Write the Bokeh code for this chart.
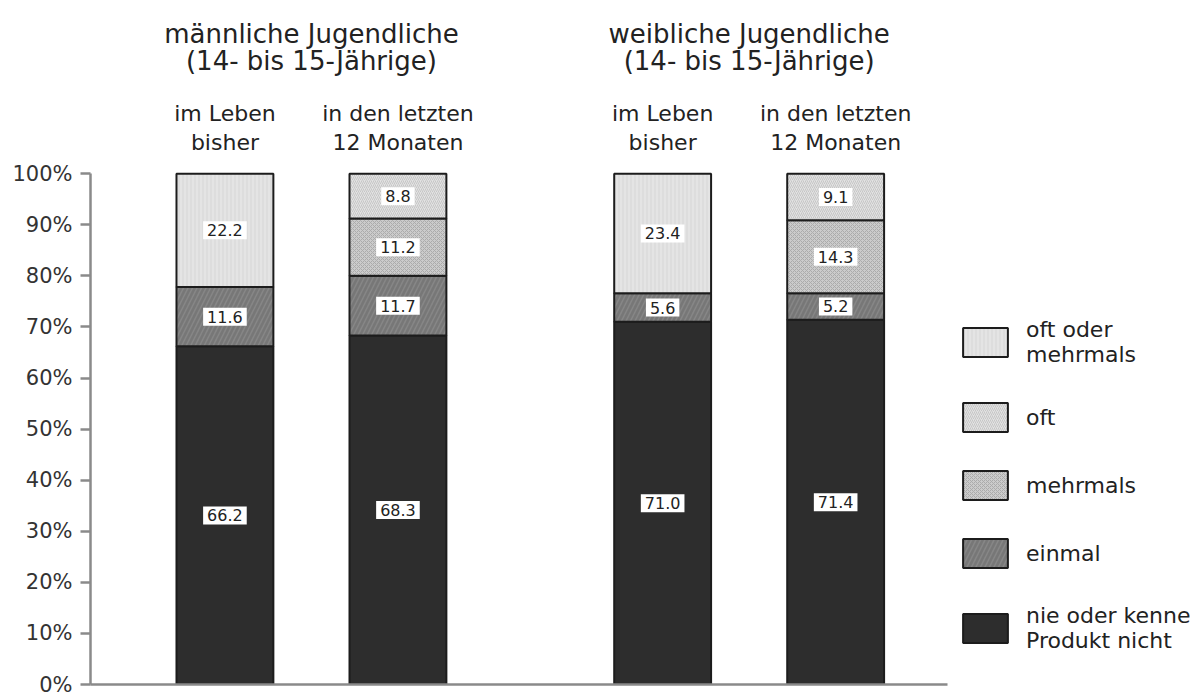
from bokeh.plotting import figure
from bokeh.models import (Range1d, LinearAxis, FixedTicker, PrintfTickFormatter,
                          Legend, LegendItem, ColumnDataSource)
from bokeh.core.properties import value
from bokeh.embed import file_html
from bokeh.resources import INLINE

# ---------------- data ----------------
group_titles = [["männliche Jugendliche", "(14- bis 15-Jährige)"],
                ["weibliche Jugendliche", "(14- bis 15-Jährige)"]]
bar_titles = [["im Leben", "bisher"], ["in den letzten", "12 Monaten"]]
group_index = [0, 0, 1, 1]
sub_index = [0, 1, 0, 1]

series_names = ["nie oder kenne\nProdukt nicht", "einmal", "mehrmals", "oft",
                "oft oder\nmehrmals"]
nie = [66.2, 68.3, 71.0, 71.4]
einmal = [11.6, 11.7, 5.6, 5.2]
mehrmals = [0.0, 11.2, 0.0, 14.3]
oft = [0.0, 8.8, 0.0, 9.1]
oft_oder_mehrmals = [22.2, 0.0, 23.4, 0.0]
y_ticks = [0, 10, 20, 30, 40, 50, 60, 70, 80, 90, 100]

# ---------------- layout / style ----------------
FONT = "DejaVu Sans"
GROUP_STEP = 2.53
BAR_WIDTH = 0.56
X_START, X_END = -0.777, 5.633
X_AXIS_END = 4.177
Y_END = 133.9
TITLE_Y = [127.4, 122.1]
SUB_Y = [111.7, 106.1]

styles = [
    dict(fill_color="#2d2d2d"),
    dict(fill_color="#777777", hatch_pattern="/", hatch_color="#868686", hatch_scale=9, hatch_weight=1.5),
    dict(fill_color="#cbcbcb", hatch_pattern="x", hatch_color="#ababab", hatch_scale=4, hatch_weight=1),
    dict(fill_color="#e2e2e2", hatch_pattern="/", hatch_color="#c6c6c6", hatch_scale=4, hatch_weight=1),
    dict(fill_color="#e4e4e4", hatch_pattern="|", hatch_color="#d6d6d6", hatch_scale=4, hatch_weight=1),
]

xs = [g * GROUP_STEP + s for g, s in zip(group_index, sub_index)]

p = figure(width=1199, height=697, output_backend="svg", toolbar_location=None,
           x_range=Range1d(X_START, X_END), y_range=Range1d(0, Y_END),
           x_axis_type=None, y_axis_type=None,
           min_border_left=90, min_border_right=0, min_border_top=0, min_border_bottom=13,
           outline_line_color=None, background_fill_color="white",
           border_fill_color="white")

yaxis = LinearAxis(ticker=FixedTicker(ticks=y_ticks), formatter=PrintfTickFormatter(format="%d%%"),
                   bounds=(0, 100), axis_line_color="#8a8a8a", axis_line_width=2.5,
                   major_tick_line_color="#8a8a8a", major_tick_line_width=2.5,
                   major_tick_in=0, major_tick_out=10, minor_tick_line_color=None,
                   major_label_text_font=FONT, major_label_text_font_size="21px",
                   major_label_text_color="#333333", major_label_standoff=8)
p.add_layout(yaxis, "left")

xaxis = LinearAxis(ticker=FixedTicker(ticks=[]), bounds=(X_START, X_AXIS_END),
                   axis_line_color="#8a8a8a", axis_line_width=2.5,
                   major_tick_line_color=None, minor_tick_line_color=None,
                   major_label_text_font_size="0px")
p.add_layout(xaxis, "below")

all_series = [nie, einmal, mehrmals, oft, oft_oder_mehrmals]
bottoms = [0.0] * len(xs)
renderers = []
lab_x, lab_y, lab_t = [], [], []
for vals, st in zip(all_series, styles):
    d = dict(x=[], bottom=[], top=[])
    for i, v in enumerate(vals):
        if v > 0:
            d["x"].append(xs[i])
            d["bottom"].append(bottoms[i])
            d["top"].append(bottoms[i] + v)
            lab_x.append(xs[i])
            lab_y.append(bottoms[i] + v / 2)
            lab_t.append("%.1f" % v)
        bottoms[i] += v
    r = p.vbar(x="x", bottom="bottom", top="top", width=BAR_WIDTH, source=ColumnDataSource(d),
               line_color="#1c1c1c", line_width=2, **st)
    renderers.append(r)

p.text(x=lab_x, y=lab_y, text=lab_t, text_align="center", text_baseline="middle",
       text_font=value(FONT), text_font_size="16px", text_color="#222222",
       background_fill_color="white", padding=dict(left=4, right=4, top=3, bottom=3))

# group titles
for gi, lines in enumerate(group_titles):
    cx = gi * GROUP_STEP + 0.5
    p.text(x=[cx, cx], y=TITLE_Y, text=lines, text_align="center", text_baseline="alphabetic",
           text_font=value(FONT), text_font_size="26px", text_color="#222222")
# bar titles
for x, g, s in zip(xs, group_index, sub_index):
    p.text(x=[x, x], y=SUB_Y, text=bar_titles[s], text_align="center", text_baseline="alphabetic",
           text_font=value(FONT), text_font_size="22px", text_color="#222222")

items = [LegendItem(label=series_names[i], renderers=[renderers[i]]) for i in range(4, -1, -1)]
legend = Legend(items=items, location=(867, 31), glyph_width=56, glyph_height=36,
                label_standoff=13, spacing=32, padding=0, margin=0,
                border_line_color=None, background_fill_alpha=0,
                label_text_font=FONT, label_text_font_size="22px",
                label_text_color="#222222", label_text_line_height=1.15)
p.add_layout(legend)

open("out.html", "w").write(file_html(p, INLINE))
